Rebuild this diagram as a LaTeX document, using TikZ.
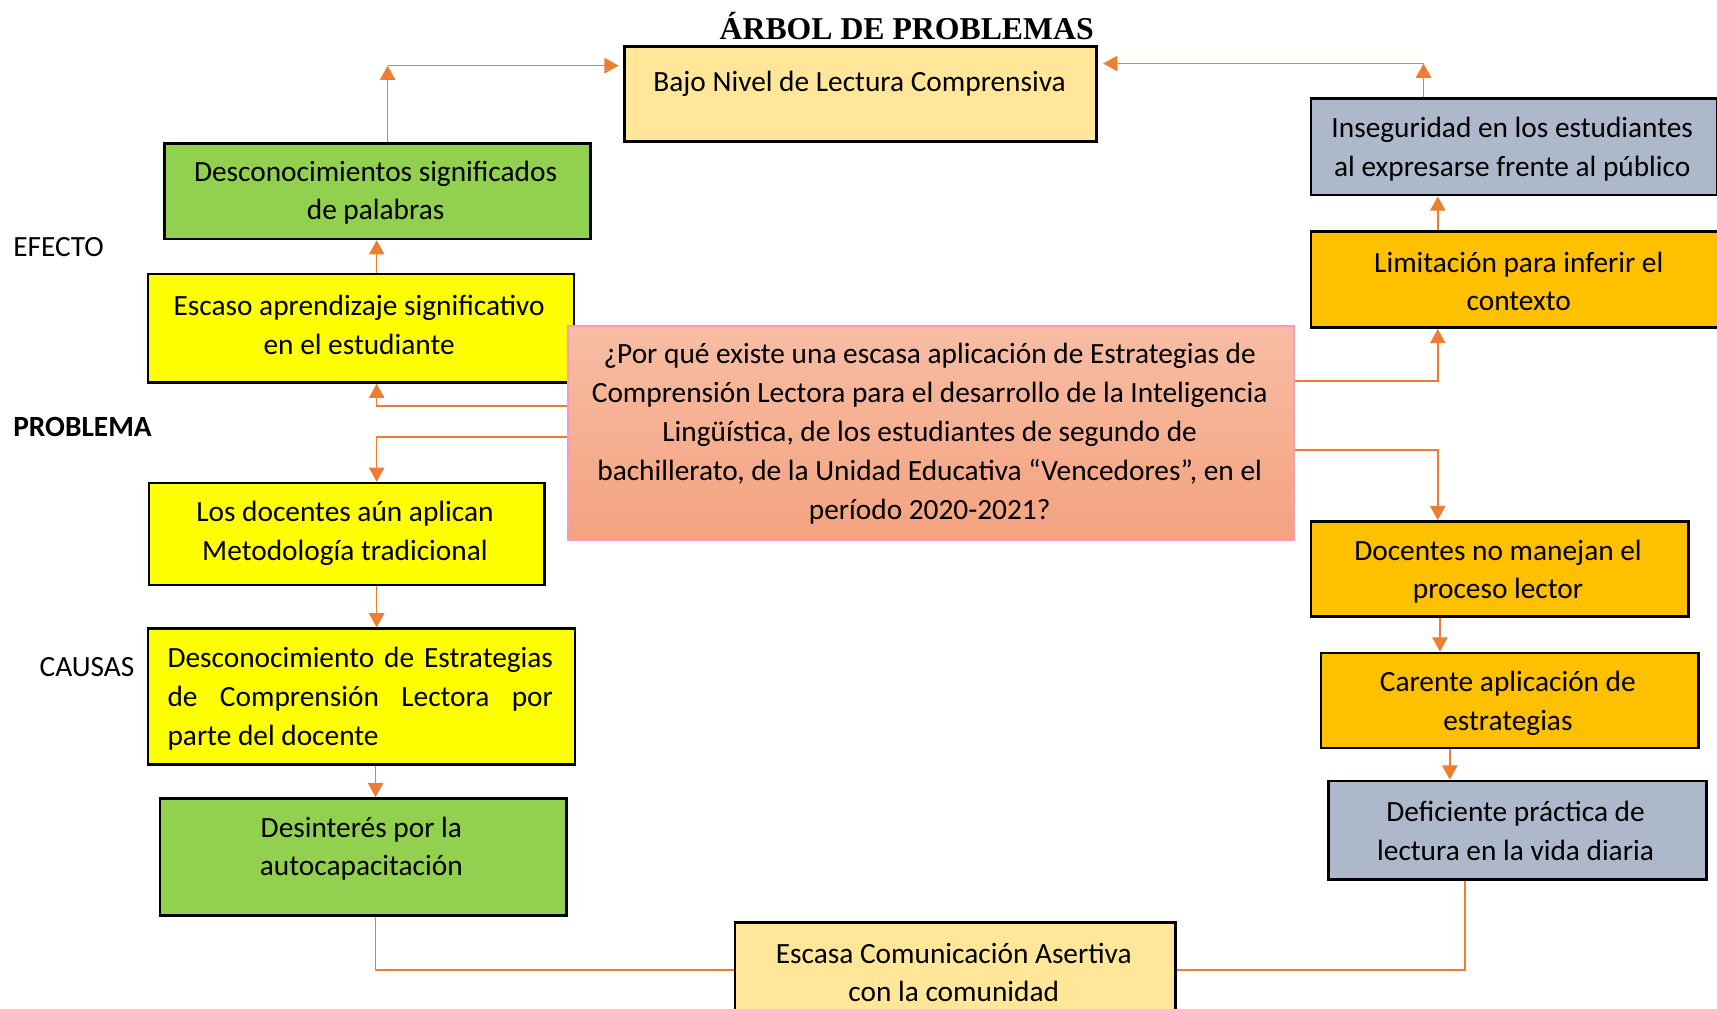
\documentclass[tikz,border=0pt]{standalone}
\usepackage{fontspec}
\setmainfont{Carlito}
\newfontfamily\titlefont{Liberation Serif}
\usetikzlibrary{arrows.meta,calc}
\definecolor{lyel}{HTML}{FFE699}
\definecolor{grn}{HTML}{92D050}
\definecolor{yel}{HTML}{FFFF00}
\definecolor{org}{HTML}{FFC000}
\definecolor{gry}{HTML}{ADB9CA}
\definecolor{arrc}{HTML}{ED7D31}
\definecolor{ctop}{HTML}{F7BDA4}
\definecolor{cbot}{HTML}{F4A27F}
\definecolor{pnk}{HTML}{F59AC4}
\begin{document}
\begin{tikzpicture}[x=1pt,y=-1pt,
  box/.style={draw=black,line width=2.4pt,anchor=north west,inner sep=0pt},
  txt/.style={align=center,font=\fontsize{26.8}{35.5}\selectfont,inner sep=0pt},
  lab/.style={anchor=west,font=\fontsize{26.8}{30}\selectfont,inner sep=0pt},
  arr/.style={draw=arrc,line width=1.4pt,-{Triangle[width=14pt,length=13pt]}},
  con/.style={draw=arrc,line width=1.4pt}]
\useasboundingbox (0,0) rectangle (1568,921.4);
\clip (0,0) rectangle (1568,921.4);

% title and side labels
\node[font=\titlefont\bfseries\fontsize{29}{32}\selectfont,inner sep=0pt] (title) at (828,24) {ÁRBOL DE PROBLEMAS};
\node[lab] (efecto) at (12,226) {EFECTO};
\node[lab,font=\bfseries\fontsize{26.8}{30}\selectfont] (problema) at (12,390) {PROBLEMA};
\node[lab] (causas) at (36,609) {CAUSAS};

% boxes
\node[box,fill=lyel,minimum width=431pt,minimum height=87pt] (bajo) at (569,41) {};
\node[txt] (bajo-t) at (785,77) {Bajo Nivel de Lectura Comprensiva};

\node[box,fill=grn,minimum width=389pt,minimum height=87pt] (desc) at (149,130) {};
\node[txt] (desc-t) at (343,176) {Desconocimientos significados\\de palabras};

\node[box,fill=yel,minimum width=389pt,minimum height=99pt] (esc) at (134,249) {};
\node[txt] (esc-t) at (328,297) {Escaso aprendizaje significativo\\en el estudiante};

\node[box,draw=pnk,line width=1.2pt,top color=ctop,bottom color=cbot,minimum width=663pt,minimum height=196pt] (ctr) at (518,297) {};
\node[txt] (ctr-t) at (849,396) {¿Por qué existe una escasa aplicación de Estrategias de\\Comprensión Lectora para el desarrollo de la Inteligencia\\Lingüística, de los estudiantes de segundo de\\bachillerato, de la Unidad Educativa “Vencedores”, en el\\período 2020-2021?};

\node[box,fill=yel,minimum width=361pt,minimum height=93pt] (losd) at (135,440) {};
\node[txt] (losd-t) at (315,487) {Los docentes aún aplican\\Metodología tradicional};

\node[box,fill=yel,minimum width=390pt,minimum height=124pt] (desco) at (134,573) {};
\node[txt,align=justify,text width=352pt] (desco-t) at (329,638) {Desconocimiento de Estrategias\linebreak de Comprensión Lectora por\linebreak parte del docente};

\node[box,fill=grn,minimum width=371pt,minimum height=107pt] (desin) at (145,728) {};
\node[txt] (desin-t) at (330,775) {Desinterés por la\\autocapacitación};

\node[box,fill=lyel,minimum width=402pt,minimum height=95pt] (escasa) at (670,841) {};
\node[txt] (escasa-t) at (871,888) {Escasa Comunicación Asertiva\\con la comunidad};

\node[box,fill=gry,minimum width=371pt,minimum height=88pt] (inseg) at (1196,89) {};
\node[txt] (inseg-t) at (1381,136) {Inseguridad en los estudiantes\\al expresarse frente al público};

\node[box,fill=org,minimum width=382pt,minimum height=88pt] (limit) at (1196,210) {};
\node[txt] (limit-t) at (1387,257) {Limitación para inferir el\\contexto};

\node[box,fill=org,minimum width=345pt,minimum height=87pt] (docn) at (1196,475) {};
\node[txt] (docn-t) at (1368,522) {Docentes no manejan el\\proceso lector};

\node[box,fill=org,minimum width=345pt,minimum height=87pt] (carente) at (1205,595) {};
\node[txt] (carente-t) at (1377,642) {Carente aplicación de\\estrategias};

\node[box,fill=gry,minimum width=345pt,minimum height=90pt] (defic) at (1212,712) {};
\node[txt] (defic-t) at (1384,759) {Deficiente práctica de\\lectura en la vida diaria};

% helper coordinates
\coordinate (cL) at (354,60);
\coordinate (cR) at (1300,58);
\coordinate (xL) at (344,0);
\coordinate (xL2) at (343,0);
\coordinate (xR) at (1313,0);
\coordinate (xR2) at (1315,0);
\coordinate (xR3) at (1324,0);
\coordinate (xR0) at (1338,0);
\coordinate (yA) at (0,371);
\coordinate (yB) at (0,399);
\coordinate (yC) at (0,886);
\coordinate (yD) at (0,348);
\coordinate (yE) at (0,411);

% connectors
\draw[arr] (desc.north -| cL) -- (cL);
\draw[arr,shorten >=4pt] (cL) -- (bajo.west |- cL);
\draw[arr] (inseg.north -| cR) -- (cR);
\draw[arr,shorten >=5pt] (cR) -- (bajo.east |- cR);
\draw[arr] (esc.north -| xL) -- (desc.south -| xL);
\draw[arr] (ctr.west |- yA) -| (esc.south -| xL);
\draw[arr] (ctr.west |- yB) -| (losd.north -| xL);
\draw[arr] (losd.south -| xL) -- (desco.north -| xL);
\draw[arr] (desco.south -| xL2) -- (desin.north -| xL2);
\draw[con] (desin.south -| xL2) |- (escasa.west |- yC);
\draw[con] (escasa.east |- yC) -| (defic.south -| xR0);
\draw[arr] (ctr.east |- yD) -| (limit.south -| xR);
\draw[arr] (limit.north -| xR) -- (inseg.south -| xR);
\draw[arr] (ctr.east |- yE) -| (docn.north -| xR);
\draw[arr] (docn.south -| xR2) -- (carente.north -| xR2);
\draw[arr] (carente.south -| xR3) -- (defic.north -| xR3);
\end{tikzpicture}
\end{document}
